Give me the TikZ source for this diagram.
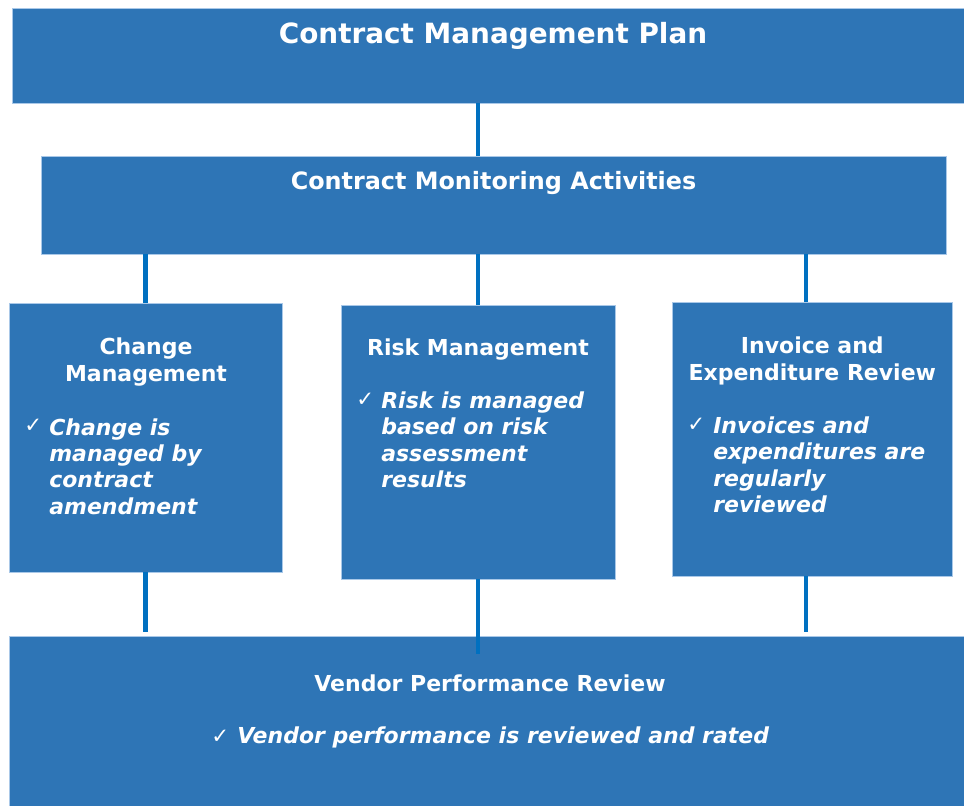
\documentclass[tikz,border=0pt]{standalone}
\usepackage{fontspec}
\setmainfont{DejaVu Sans}
\usetikzlibrary{fit}
\definecolor{boxblue}{HTML}{2E75B6}
\definecolor{linkblue}{HTML}{0070C0}
\definecolor{edgeblue}{HTML}{A9C8E8}
\begin{document}
\begin{tikzpicture}[x=0.75pt,y=-0.75pt,
  blk/.style={fill=boxblue, draw=edgeblue, line width=0.5pt, inner sep=0pt},
  link/.style={draw=linkblue, line width=3.2pt},
  hd/.style={text=white, font=\bfseries\fontsize{16.5}{20.25}\selectfont, align=center, inner sep=0pt},
  bul/.style={text=white, font=\bfseries\itshape\fontsize{16.5}{19.7}\selectfont, align=left, inner sep=0pt, anchor=north west},
  chk/.style={text=white, font=\fontsize{16}{18}\selectfont, inner sep=0pt, anchor=base west}]
\useasboundingbox (0,0) rectangle (964,806);
% boxes
\node[blk, fit={(12,8)(964,103)}] (plan) {};
\node[blk, fit={(41,156)(946,254)}] (monitor) {};
\node[blk, fit={(9,303)(282,572)}] (change) {};
\node[blk, fit={(341,305)(615,579)}] (risk) {};
\node[blk, fit={(672,302)(952,576)}] (invoice) {};
\node[blk, fit={(9,636)(964,806)}] (vendor) {};
% helper coordinates
\coordinate (m3) at (806,0);
\coordinate (vc) at (0,632);
\coordinate (vm) at (0,654);
% connectors
\draw[link] (risk.north |- plan.south) -- (risk.north |- monitor.north);
\draw[link] (change.north |- monitor.south) -- (change.north);
\draw[link] (risk.north |- monitor.south) -- (risk.north);
\draw[link] (m3 |- monitor.south) -- (m3 |- invoice.north);
\draw[link] (change.south) -- (change.south |- vc);
\draw[link] (risk.south) -- (risk.south |- vm);
\draw[link] (m3 |- invoice.south) -- (m3 |- vc);
% titles
\node[hd, anchor=base, font=\bfseries\fontsize{20.9}{25}\selectfont] (tplan) at (493,43.3) {Contract Management Plan};
\node[hd, anchor=base, font=\bfseries\fontsize{17.9}{21}\selectfont] (tmon) at (493.5,189.5) {Contract Monitoring Activities};
\node[hd, anchor=north] (tchange) at (146,335.1) {\strut Change\\Management};
\node[hd, anchor=base] (trisk) at (478,355) {Risk Management};
\node[hd, anchor=north] (tinv) at (812.3,334.4) {\strut Invoice and\\Expenditure Review};
\node[hd, anchor=base] (tven) at (490,691.7) {Vendor Performance Review};
% bullets
\node[chk] (c1) at (24,432) {✓};
\node[bul] (b1) at (49,416.6) {\strut Change is\\managed by\\contract\\amendment};
\node[chk] (c2) at (356,406.5) {✓};
\node[bul] (b2) at (381,389.9) {\strut Risk is managed\\based on risk\\assessment\\results};
\node[chk] (c3) at (687,431.5) {✓};
\node[bul] (b3) at (713,414.9) {\strut Invoices and\\expenditures are\\regularly\\reviewed};
\node[chk] (c4) at (211,743) {✓};
\node[bul, anchor=base west] (b4) at (237,743.3) {Vendor performance is reviewed and rated};
\end{tikzpicture}
\end{document}
